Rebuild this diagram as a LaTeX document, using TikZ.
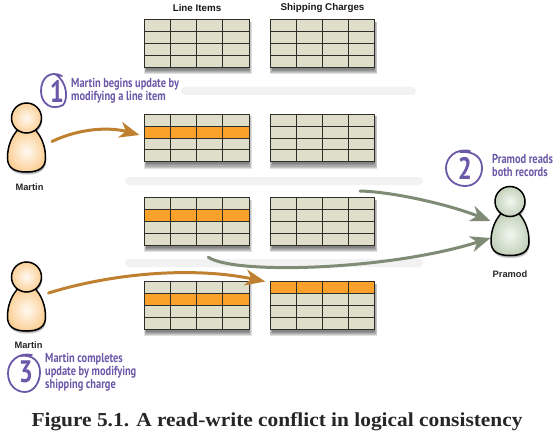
\documentclass[tikz,border=0pt]{standalone}
\usepackage{fontspec}
\usetikzlibrary{arrows.meta}
\setmainfont{Liberation Sans}
\newfontfamily\handfont[FakeStretch=0.8]{PT Sans Bold}
\newfontfamily\capfont[FakeStretch=1.08]{Liberation Serif}
\definecolor{cell}{HTML}{DEDECB}
\definecolor{hilite}{HTML}{F9A12A}
\definecolor{gridc}{HTML}{2E2E28}
\definecolor{ochre}{HTML}{BF8130}
\definecolor{sage}{HTML}{7F8B74}
\definecolor{hand}{HTML}{6B58A8}
\definecolor{barc}{HTML}{F2F2F2}
\definecolor{peach}{HTML}{FBD098}
\definecolor{peachin}{HTML}{FFFAF2}
\definecolor{mint}{HTML}{C4D2BC}
\definecolor{mintin}{HTML}{F2F7F0}
\tikzset{
  tablebox/.style={draw=gridc,line width=0.9pt,fill=cell,minimum width=104.5pt,minimum height=47.5pt,inner sep=0pt,outer sep=0pt},
  gridline/.style={draw=gridc,line width=0.9pt},
  personbox/.style={inner sep=0pt,outer sep=0pt,minimum width=37pt,minimum height=69pt},
  outline/.style={draw=black,line width=1.5pt},
  bgbar/.style={fill=barc,rounded corners=4pt},
  who/.style={font=\fontsize{9.3}{10}\selectfont\bfseries,text=black!85,inner sep=0pt},
  heading/.style={font=\fontsize{9.8}{10}\selectfont\bfseries,text=black!90,inner sep=0pt},
  note/.style={font=\handfont\fontsize{13}{13}\selectfont,text=hand,align=left,anchor=north west,inner sep=0pt},
  digit/.style={font=\handfont\fontsize{31}{31}\selectfont,text=hand,inner sep=0pt},
  ring/.style={draw=hand,line width=1.8pt,line cap=round},
  flowA/.style={draw=ochre,line width=3pt,line cap=round,-{Stealth[length=20pt,width=16pt,inset=6pt]}},
  flowB/.style={draw=sage,line width=3pt,line cap=round,-{Stealth[length=20pt,width=16pt,inset=6pt]}}
}
% name, centre x, centre y, highlighted row (0 = none)
\newcommand{\dbtable}[4]{%
  \foreach \i in {0,1,2,3,4}{
    \fill[black,opacity=0.12] ({#2-52.25-0.5+\i*0.6},{#3-23.75+2}) rectangle ({#2+52.25+2.5-\i*0.6},{#3+23.75+7-\i*1.1});
  }
  \node[tablebox] (#1) at (#2,#3) {};
  \ifnum#4>0
    \fill[hilite] ({#2-52.25},{#3-23.75+(#4-1)*11.875}) rectangle ({#2+52.25},{#3-23.75+#4*11.875});
  \fi
  \foreach \r in {1,2,3}{
    \draw[gridline] ({#2-52.25},{#3-23.75+\r*11.875}) -- ({#2+52.25},{#3-23.75+\r*11.875});
    \draw[gridline] ({#2-52.25+\r*26.125},{#3-23.75}) -- ({#2-52.25+\r*26.125},{#3+23.75});
  }
  \draw[gridline] ({#2-52.25},{#3-23.75}) rectangle ({#2+52.25},{#3+23.75});
}
\newcommand{\bodypath}{(-9,12) .. controls (-15,19) and (-19,28) .. (-19,40)
      .. controls (-19,50) and (-12,54) .. (0,54)
      .. controls (12,54) and (19,50) .. (19,40)
      .. controls (19,28) and (15,19) .. (9,12)
      .. controls (5,15) and (-5,15) .. (-9,12) -- cycle}
% name, head centre x, head centre y, outer colour, inner colour
\newcommand{\personfig}[5]{%
  \begin{scope}[shift={(#2,#3)}]
    \foreach \i in {1,2,3}{
      \begin{scope}[shift={(0.6,\i*0.9)}]
        \fill[black,opacity=0.16] \bodypath;
        \fill[black,opacity=0.16] (0,0) circle (15);
      \end{scope}
    }
    \path[outline,shade,outer color=#4,inner color=#5] \bodypath;
    \path[outline,shade,outer color=#4,inner color=#5] (0,0) circle (15);
  \end{scope}
  \node[personbox] (#1) at ({#2},{#3+19.5}) {};
}
\begin{document}
\begin{tikzpicture}[x=1pt,y=-1pt]
\useasboundingbox (0,0) rectangle (554,433);
\fill[white] (0,0) rectangle (554,433);

% background bars
\node[bgbar,minimum width=235pt,minimum height=8pt,inner sep=0pt] (barA) at (298.5,91) {};
\node[bgbar,minimum width=298pt,minimum height=8pt,inner sep=0pt] (barB) at (274,181) {};
\node[bgbar,minimum width=298pt,minimum height=8pt,inner sep=0pt] (barC) at (274,263) {};

% headings
\node[heading] (hLeft) at (197,8) {Line Items};
\node[heading] (hRight) at (322.5,8) {Shipping Charges};

% tables
\dbtable{ta}{196.75}{43.5}{0}
\dbtable{tb}{322.5}{43.5}{0}
\dbtable{tc}{196.75}{138}{2}
\dbtable{td}{322.5}{138}{0}
\dbtable{te}{196.75}{221.5}{2}
\dbtable{tf}{322.5}{221.5}{0}
\dbtable{tg}{196.75}{305.5}{2}
\dbtable{th}{322.5}{305.5}{1}

% people
\personfig{martinA}{26.5}{118}{peach}{peachin}
\personfig{martinB}{26.5}{277}{peach}{peachin}
\personfig{pramod}{510}{201.5}{mint}{mintin}
\node[who] (nA) at (29.5,187) {Martin};
\node[who] (nB) at (28.5,345) {Martin};
\node[who] (nC) at (510,274) {Pramod};

% connectors
\draw[flowA] ([shift={(7,4)}]martinA.east) .. controls (80,128) and (110,127) .. ([shift={(-5,-3)}]tc.west);
\draw[flowA] ([shift={(3.5,-3.5)}]martinB.east) .. controls (110,274) and (190,266) .. ([shift={(-5,-24)}]th.west);
\draw[flowB] ([shift={(-131.5,-30)}]pramod.west) .. controls (395,192) and (450,205) .. ([shift={(-1,0)}]pramod.west);
\draw[flowB] ([shift={(11.5,12)}]te.south) .. controls (235,275) and (390,270) .. ([shift={(-1,17)}]pramod.west);

% numbers and notes
\draw[ring] (62,76) .. controls (50,70) and (41,78) .. (41,91) .. controls (41,104) and (52,111) .. (63,105) .. controls (68,100) and (68,82) .. (55,74);
\node[digit] (d1) at (57,91) {1};
\node[note] (n1) at (71,78) {Martin begins update by\\modifying a line item};

\draw[ring] (470,151) .. controls (455,148) and (446,158) .. (446,168) .. controls (446,180) and (456,186) .. (465,186) .. controls (476,186) and (482,177) .. (482,168) .. controls (482,158) and (475,151) .. (460,152);
\node[digit] (d2) at (465,168) {2};
\node[note] (n2) at (492,154) {Pramod reads\\both records};

\draw[ring] (32,355) .. controls (18,352) and (8,362) .. (8,373) .. controls (8,385) and (16,392) .. (25,392) .. controls (34,392) and (40,382) .. (40,372) .. controls (40,362) and (33,354) .. (20,356);
\node[digit] (d3) at (26,372) {3};
\node[note] (n3) at (45,353) {Martin completes\\update by modifying\\shipping charge};

% caption
\node[font=\capfont\fontsize{19.8}{22}\selectfont\bfseries,text=black!85,inner sep=0pt,anchor=base] (cap) at (277,426) {Figure 5.1. A read-write conflict in logical consistency};
\end{tikzpicture}
\end{document}
